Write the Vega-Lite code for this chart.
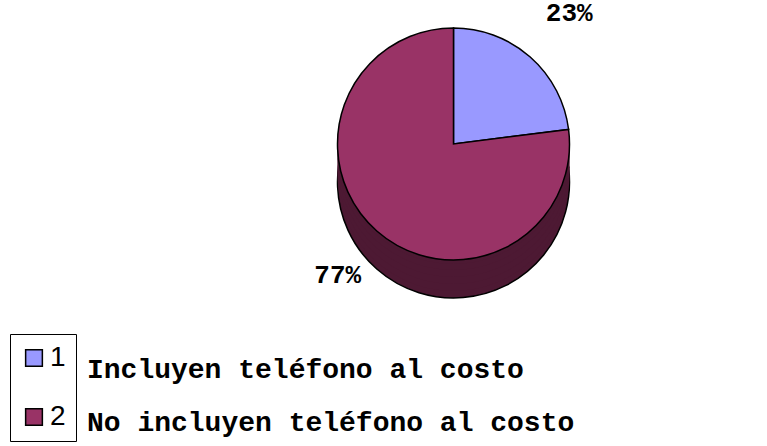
{
  "$schema": "https://vega.github.io/schema/vega-lite/v6.json",
  "autosize": {"type": "none"},
  "width": 627,
  "height": 288,
  "padding": {"left": 140, "top": 0, "right": 0, "bottom": 158},
  "background": "white",
  "config": {"view": {"stroke": null}, "text": {"font": "Liberation Mono", "fontWeight": "bold"}},
  "data": {
    "values": [
      {"cat": "1", "desc": "Incluyen teléfono al costo", "value": 23, "label": "23%"},
      {"cat": "2", "desc": "No incluyen teléfono al costo", "value": 77, "label": "77%"}
    ]
  },
  "encoding": {
    "theta": {"field": "value", "type": "quantitative", "stack": true},
    "order": {"field": "cat", "type": "nominal"}
  },
  "layer": [
    {
      "mark": {"type": "arc", "radius": 116, "yOffset": 38, "fill": "#4D1933", "stroke": "black", "strokeWidth": 1.5}
    },
    {
      "mark": {"type": "arc", "radius": 116, "yOffset": 31, "fill": "#4D1933", "strokeOpacity": 0}
    },
    {
      "mark": {"type": "arc", "radius": 116, "yOffset": 24, "fill": "#4D1933", "strokeOpacity": 0}
    },
    {
      "mark": {"type": "arc", "radius": 116, "yOffset": 17, "fill": "#4D1933", "strokeOpacity": 0}
    },
    {
      "mark": {"type": "arc", "radius": 116, "yOffset": 10, "fill": "#4D1933", "strokeOpacity": 0}
    },
    {
      "mark": {"type": "arc", "radius": 116, "yOffset": 4, "fill": "#4D1933", "strokeOpacity": 0}
    },
    {
      "mark": {"type": "arc", "radius": 116, "stroke": "black", "strokeWidth": 1.5},
      "encoding": {
        "color": {
          "field": "cat",
          "type": "nominal",
          "scale": {"domain": ["1", "2"], "range": ["#9999FF", "#993366"]},
          "legend": {
            "orient": "none",
            "legendX": -130,
            "legendY": 334,
            "title": null,
            "strokeColor": "black",
            "padding": 10,
            "symbolType": "square",
            "symbolSize": 280,
            "symbolStrokeColor": "black",
            "symbolStrokeWidth": 1.5,
            "labelFont": "Liberation Sans",
            "labelFontSize": 28,
            "labelColor": "black",
            "labelOffset": 2,
            "rowPadding": 31
          }
        },
        "opacity": {
          "field": "desc",
          "type": "nominal",
          "scale": {"range": [1, 1]},
          "legend": {
            "orient": "none",
            "legendX": -81,
            "legendY": 356,
            "title": null,
            "symbolSize": 0,
            "symbolOpacity": 0,
            "labelOffset": 0,
            "labelFont": "Liberation Mono",
            "labelFontWeight": "bold",
            "labelFontSize": 28,
            "labelColor": "black",
            "labelLimit": 700,
            "rowPadding": 25
          }
        }
      }
    },
    {
      "mark": {"type": "text", "radius": 175, "font": "Liberation Mono", "fontWeight": "bold", "fontSize": 26, "color": "black"},
      "encoding": {
        "text": {"field": "label", "type": "nominal"}
      }
    }
  ]
}
